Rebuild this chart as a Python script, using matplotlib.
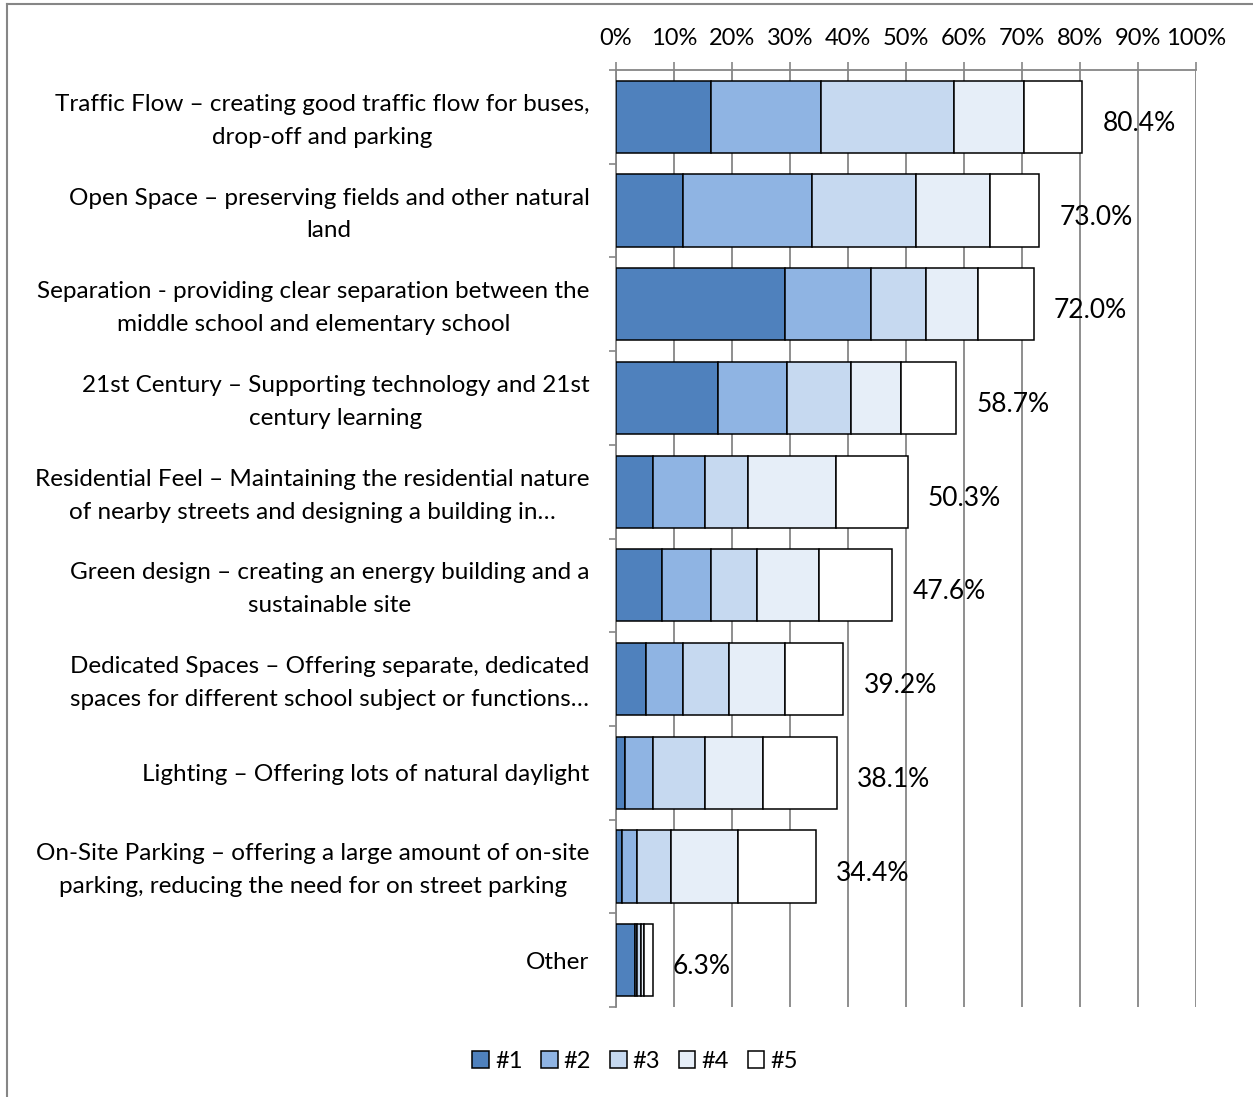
import numpy as np
import matplotlib
matplotlib.use('Agg')
import matplotlib.pyplot as plt
import matplotlib.transforms as mtransforms
from matplotlib.lines import Line2D
from matplotlib.ticker import FixedLocator

plt.rcParams['font.family'] = ['Lato', 'DejaVu Sans']

# data
categories = [
    'Traffic Flow \u2013 creating good traffic flow for buses,\ndrop-off and parking',
    'Open Space \u2013 preserving fields and other natural\nland',
    'Separation - providing clear separation between the\nmiddle school and elementary school',
    '21st Century \u2013 Supporting technology and 21st\ncentury learning',
    'Residential Feel \u2013 Maintaining the residential nature\nof nearby streets and designing a building in\u2026',
    'Green design \u2013 creating an energy building and a\nsustainable site',
    'Dedicated Spaces \u2013 Offering separate, dedicated\nspaces for different school subject or functions\u2026',
    'Lighting \u2013 Offering lots of natural daylight',
    'On-Site Parking \u2013 offering a large amount of on-site\nparking, reducing the need for on street parking',
    'Other',
]
rank1 = [16.3, 11.6, 29.1, 17.5, 6.3, 7.9, 5.2, 1.5, 1.0, 3.2]
rank2 = [19.1, 22.2, 14.8, 12.0, 9.0, 8.4, 6.4, 4.8, 2.7, 0.4]
rank3 = [22.8, 18.0, 9.5, 11.1, 7.4, 8.0, 7.9, 9.0, 5.8, 0.7]
rank4 = [12.1, 12.7, 9.0, 8.5, 15.3, 10.7, 9.6, 10.0, 11.6, 0.5]
rank5 = [10.1, 8.5, 9.6, 9.6, 12.3, 12.6, 10.1, 12.8, 13.3, 1.5]
totals = ['80.4%', '73.0%', '72.0%', '58.7%', '50.3%', '47.6%', '39.2%', '38.1%', '34.4%', '6.3%']
series_names = ['#1', '#2', '#3', '#4', '#5']
colors = ['#4F81BD', '#8FB4E3', '#C6D9F0', '#E6EEF8', '#FFFFFF']

W, H = 1253, 1097
fig = plt.figure(figsize=(W / 100, H / 100), dpi=100)
ax = fig.add_axes([616 / W, 1 - 1007 / H, 580 / W, 937 / H])

y = np.arange(len(categories))
left = np.zeros(len(categories))
for vals, name, c in zip([rank1, rank2, rank3, rank4, rank5], series_names, colors):
    ax.barh(y, vals, left=left, height=0.77, color=c, edgecolor='black',
            linewidth=1.1, label=name, zorder=3)
    left += np.array(vals)

for yi, tot, t in zip(y, left, totals):
    ax.text(tot + 3.5, yi + 0.07, t, va='center', ha='left', fontsize=19, zorder=4)

ax.set_xlim(0, 100)
ax.set_ylim(len(categories) - 0.5, -0.5)

# x axis on top
ax.xaxis.tick_top()
ax.set_xticks(np.arange(0, 101, 10))
ax.set_xticklabels([f'{v}%' for v in range(0, 101, 10)], fontsize=17)
ax.tick_params(axis='x', direction='out', length=6, width=1.2, color='#868686', pad=9)
ax.grid(axis='x', color='#868686', linewidth=1.3, zorder=0)

# categories
ax.set_yticks(y)
ax.set_yticklabels(categories, fontsize=17.5, multialignment='center', linespacing=1.7)
ax.tick_params(axis='y', which='major', length=0, pad=19)
shift = mtransforms.ScaledTranslation(0, 4 / 100, fig.dpi_scale_trans)
for lab in ax.get_yticklabels():
    if '\n' in lab.get_text():
        lab.set_transform(lab.get_transform() + shift)
ax.yaxis.set_minor_locator(FixedLocator(np.arange(-0.5, len(categories), 1.0)))
ax.tick_params(axis='y', which='minor', length=5, width=1.2, color='#868686')

for s in ['right', 'bottom']:
    ax.spines[s].set_visible(False)
for s in ['left', 'top']:
    ax.spines[s].set_color('#868686')
    ax.spines[s].set_linewidth(1.3)

fig.legend(loc='center', bbox_to_anchor=(635 / W, 1 - 1061 / H), ncol=5,
           frameon=False, fontsize=17, handlelength=0.7, handleheight=0.7,
           handletextpad=0.25, columnspacing=0.8)

# chart border
fig.add_artist(Line2D([7 / W, 7 / W], [0, 1 - 4 / H], color='#868686', linewidth=1.5))
fig.add_artist(Line2D([7 / W, 1], [1 - 4 / H, 1 - 4 / H], color='#868686', linewidth=1.5))

fig.savefig('out.png', dpi=100)
